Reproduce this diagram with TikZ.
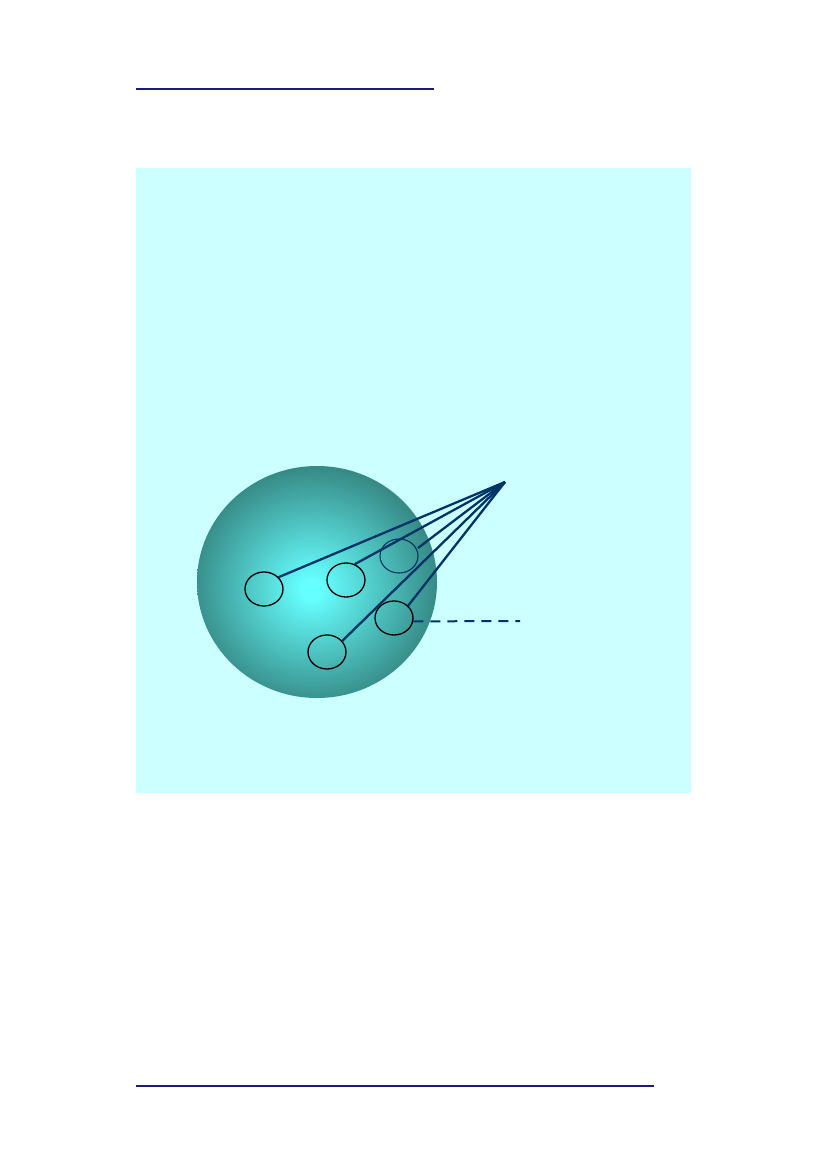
\documentclass[tikz,border=0pt]{standalone}
\usetikzlibrary{shapes.geometric}
\definecolor{bgcyan}{HTML}{CCFFFF}
\definecolor{ballin}{HTML}{66FFFF}
\definecolor{ballout}{HTML}{2E7570}
\definecolor{navyline}{HTML}{1A1A80}
\definecolor{rayblue}{HTML}{003366}
\pgfdeclareradialshading{ballshade}{\pgfpoint{-1.2bp}{-1.5bp}}{color(0bp)=(ballin); color(2bp)=(ballin); color(30bp)=(ballout); color(60bp)=(ballout)}
\tikzset{
  rule/.style={draw=navyline, line width=2pt},
  cell/.style={ellipse, draw=black, line width=1.3pt, minimum width=38pt, minimum height=34pt, inner sep=0pt},
  ray/.style={draw=rayblue, line width=2.3pt},
}
\begin{document}
\begin{tikzpicture}[x=1pt,y=-1pt]
\useasboundingbox (0,0) rectangle (826,1169);
\fill[white] (0,0) rectangle (826,1169);
\coordinate (t1) at (136,89);
\coordinate (t2) at (434,89);
\coordinate (b1) at (136,1086);
\coordinate (b2) at (654,1086);
\draw[rule] (t1) -- (t2);
\draw[rule] (b1) -- (b2);
\fill[bgcyan] (136,168) rectangle (691,793);
\node[ellipse, minimum width=240pt, minimum height=232pt, inner sep=0pt, shading=ballshade] (ball) at (317,582) {};
\coordinate (apex) at (505,482);
\node[cell] (c1) at (264,589) {};
\node[cell] (c2) at (346,580) {};
\node[cell] (c4) at (394,618) {};
\node[cell] (c5) at (327,652) {};
\draw[ray] (apex) -- (c1.39);
\draw[ray] (apex) -- (c2.61);
\draw[ray] (apex) -- (c4.41);
\draw[ray] (apex) -- (c5.36);
\draw[ray] (apex) -- (418,548) coordinate (c3end);
\node[cell, draw=rayblue, line width=1.1pt] (c3) at (399,556) {};
\coordinate (dashend) at (520,621);
\draw[ray, line width=2pt, dash pattern=on 10pt off 7pt] (c4.-10) -- (dashend);
\end{tikzpicture}
\end{document}
